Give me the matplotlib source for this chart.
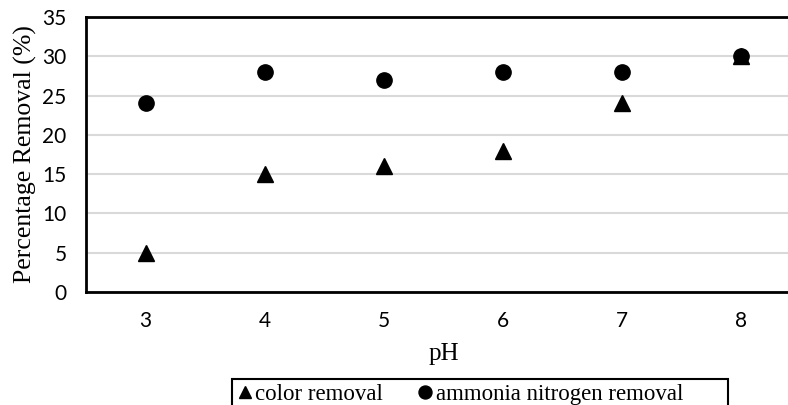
import matplotlib.pyplot as plt
from matplotlib.patches import Rectangle

# data
ph = ["3", "4", "5", "6", "7", "8"]
color_removal = [5, 15, 16, 18, 24, 30]
ammonia_removal = [24, 28, 27, 28, 28, 30]
yticks = [0, 5, 10, 15, 20, 25, 30, 35]

W, H = 788, 405
fig = plt.figure(figsize=(W / 100, H / 100), dpi=100)

# plot box runs past the right edge of the image (as in the original)
left, right, top, bottom = 86, 801, 17, 292
ax = fig.add_axes([left / W, 1 - bottom / H, (right - left) / W, (bottom - top) / H])

x = list(range(len(ph)))
ax.plot(x, color_removal, linestyle="none", marker="^", markersize=11,
        color="black", label="color removal", zorder=3, clip_on=False)
ax.plot(x, ammonia_removal, linestyle="none", marker="o", markersize=11,
        color="black", label="ammonia nitrogen removal", zorder=3, clip_on=False)

ax.set_xlim(-0.5, len(ph) - 0.5)
ax.set_ylim(0, 35)
ax.set_xticks(x)
ax.set_xticklabels(ph)
ax.set_yticks(yticks)
ax.tick_params(length=0, labelsize=15)
ax.tick_params(axis="x", pad=14)
ax.tick_params(axis="y", pad=14)
for lab in ax.get_xticklabels() + ax.get_yticklabels():
    lab.set_family("Lato")

ax.grid(axis="y", color="#d9d9d9", linewidth=1.5)
ax.set_axisbelow(True)
for s in ax.spines.values():
    s.set_color("black")
    s.set_linewidth(2)

ax.set_xlabel("pH", family="Liberation Serif", fontsize=18, labelpad=8)
ax.set_ylabel("Percentage Removal (%)", family="Liberation Serif", fontsize=18.5, labelpad=4)

# legend without its own frame, box drawn separately (wider, cut off at bottom)
leg = fig.legend(loc="upper left", bbox_to_anchor=(232 / W, 1 - 379 / H),
                 ncol=2, frameon=False,
                 prop={"family": "Liberation Serif", "size": 16.5},
                 handlelength=0.7, handletextpad=0.1, columnspacing=1.5,
                 borderpad=0.2, borderaxespad=0, markerscale=0.85)
fig.patches.append(Rectangle((232 / W, -0.05), (728 - 232) / W, 0.05 + 1 - 379 / H,
                             transform=fig.transFigure, fill=False,
                             edgecolor="black", linewidth=1.5))

fig.savefig("out.png", dpi=100)
